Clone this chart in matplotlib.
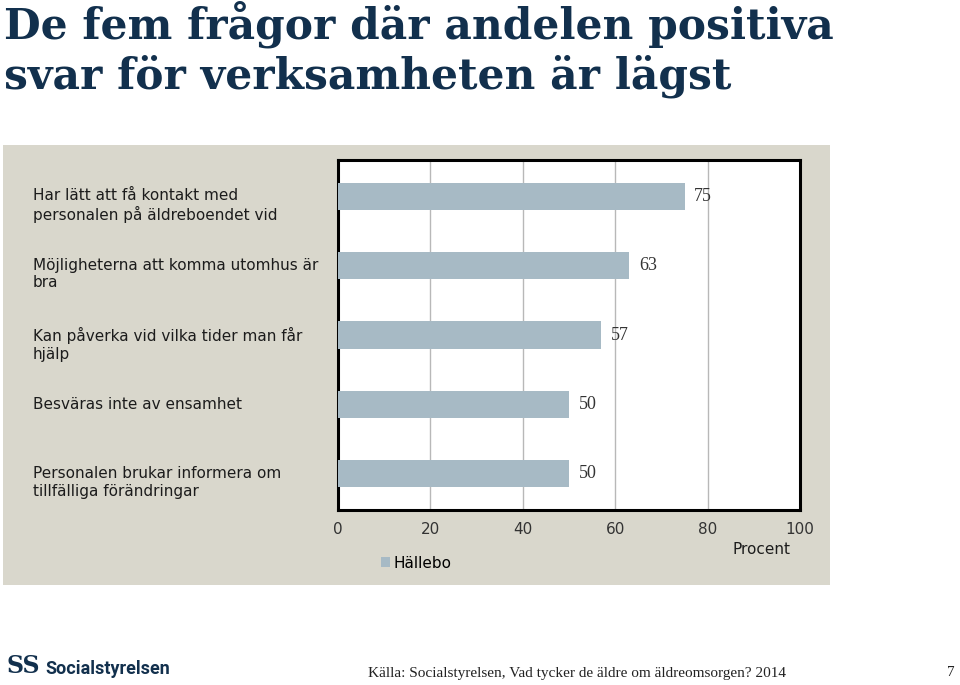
import matplotlib
matplotlib.use("Agg")
import matplotlib.pyplot as plt
import matplotlib.transforms as mtransforms

# ---- data ----
categories = [
    "Har lätt att få kontakt med\npersonalen på äldreboendet vid",
    "Möjligheterna att komma utomhus är\nbra",
    "Kan påverka vid vilka tider man får\nhjälp",
    "Besväras inte av ensamhet",
    "Personalen brukar informera om\ntillfälliga förändringar",
]
values = [75, 63, 57, 50, 50]
series_name = "Hällebo"
x_ticks = [0, 20, 40, 60, 80, 100]
x_label = "Procent"
title_lines = ["De fem frågor där andelen positiva", "svar för verksamheten är lägst"]
source_text = "Källa: Socialstyrelsen, Vad tycker de äldre om äldreomsorgen? 2014"
page_number = "7"

# ---- style ----
W, H = 960, 685
panel_color = "#d9d7cc"
bar_color = "#a7bac5"
title_color = "#12304d"
text_color = "#1c1c1c"
label_font = ["DejaVu Sans"]
serif_font = ["Liberation Serif", "DejaVu Serif"]

fig = plt.figure(figsize=(W / 100, H / 100), dpi=100)
fig.patch.set_facecolor("white")

def fx(px):
    return px / W

def fy(py):
    return 1 - py / H

# panel background (as a background axes)
bg = fig.add_axes([fx(3), fy(585), fx(830) - fx(3), fy(145) - fy(585)], zorder=-5)
bg.set_facecolor(panel_color)
bg.set_xticks([])
bg.set_yticks([])
for s in bg.spines.values():
    s.set_visible(False)

# title
for i, line in enumerate(title_lines):
    fig.text(fx(4), fy(38 + i * 50), line, ha="left", va="baseline",
             fontsize=30.5, fontweight="bold", color=title_color,
             family=["DejaVu Serif"])

# axes
ax = fig.add_axes([fx(338), fy(510), fx(800) - fx(338), fy(160) - fy(510)], zorder=2)
ax.set_facecolor("white")
ypos = list(range(len(categories)))
bars = ax.barh(ypos, values, height=0.39, color=bar_color, zorder=3, label=series_name)
ax.set_xlim(0, 100)
ax.set_ylim(len(categories) - 0.48, -0.52)
ax.set_xticks(x_ticks)
ax.set_xticklabels([str(t) for t in x_ticks], fontsize=11, family=label_font, color="#333333")
ax.tick_params(axis="x", length=0, pad=9)
ax.set_yticks([])
for t in x_ticks[1:-1]:
    ax.axvline(t, color="#b8b8b8", lw=1, zorder=1)
for s in ax.spines.values():
    s.set_linewidth(2.2)
    s.set_color("black")

# value labels
for y, v in zip(ypos, values):
    ax.annotate(str(v), (v, y), xytext=(7, 0), textcoords="offset points",
                va="center", ha="left", fontsize=13, family=serif_font, color="#333333")

# category labels
trans = mtransforms.blended_transform_factory(fig.transFigure, ax.transData)
off = mtransforms.ScaledTranslation(0, 5.5 / 72, fig.dpi_scale_trans)
for y, c in zip(ypos, categories):
    fig.text(fx(33), y, c, transform=trans + off, ha="left", va="top",
             fontsize=11, family=label_font, color=text_color, linespacing=1.2)

# axis label
fig.text(fx(762), fy(549), x_label, ha="center", va="center", fontsize=11,
         family=label_font, color=text_color)

# legend
fig.legend(handles=[bars], labels=[series_name], loc="center left",
           bbox_to_anchor=(fx(381), fy(563)), frameon=False,
           handlelength=0.6, handleheight=0.6, handletextpad=0.25,
           borderpad=0, borderaxespad=0,
           prop={"family": label_font, "size": 11})

# footer
fig.text(fx(7), fy(666), "SS", ha="left", va="center", fontsize=17, fontweight="bold",
         family=["DejaVu Serif"], color=title_color)
fig.text(fx(45), fy(669), "Socialstyrelsen", ha="left", va="center", fontsize=13,
         fontweight="bold", family=["Roboto", "DejaVu Sans"], color=title_color)
fig.text(fx(368), fy(673), source_text, ha="left", va="center", fontsize=11,
         family=serif_font, color="#222222")
fig.text(fx(955), fy(673), page_number, ha="right", va="center", fontsize=11,
         family=serif_font, color="#222222")

fig.savefig("out.png", dpi=100, facecolor=fig.get_facecolor())
